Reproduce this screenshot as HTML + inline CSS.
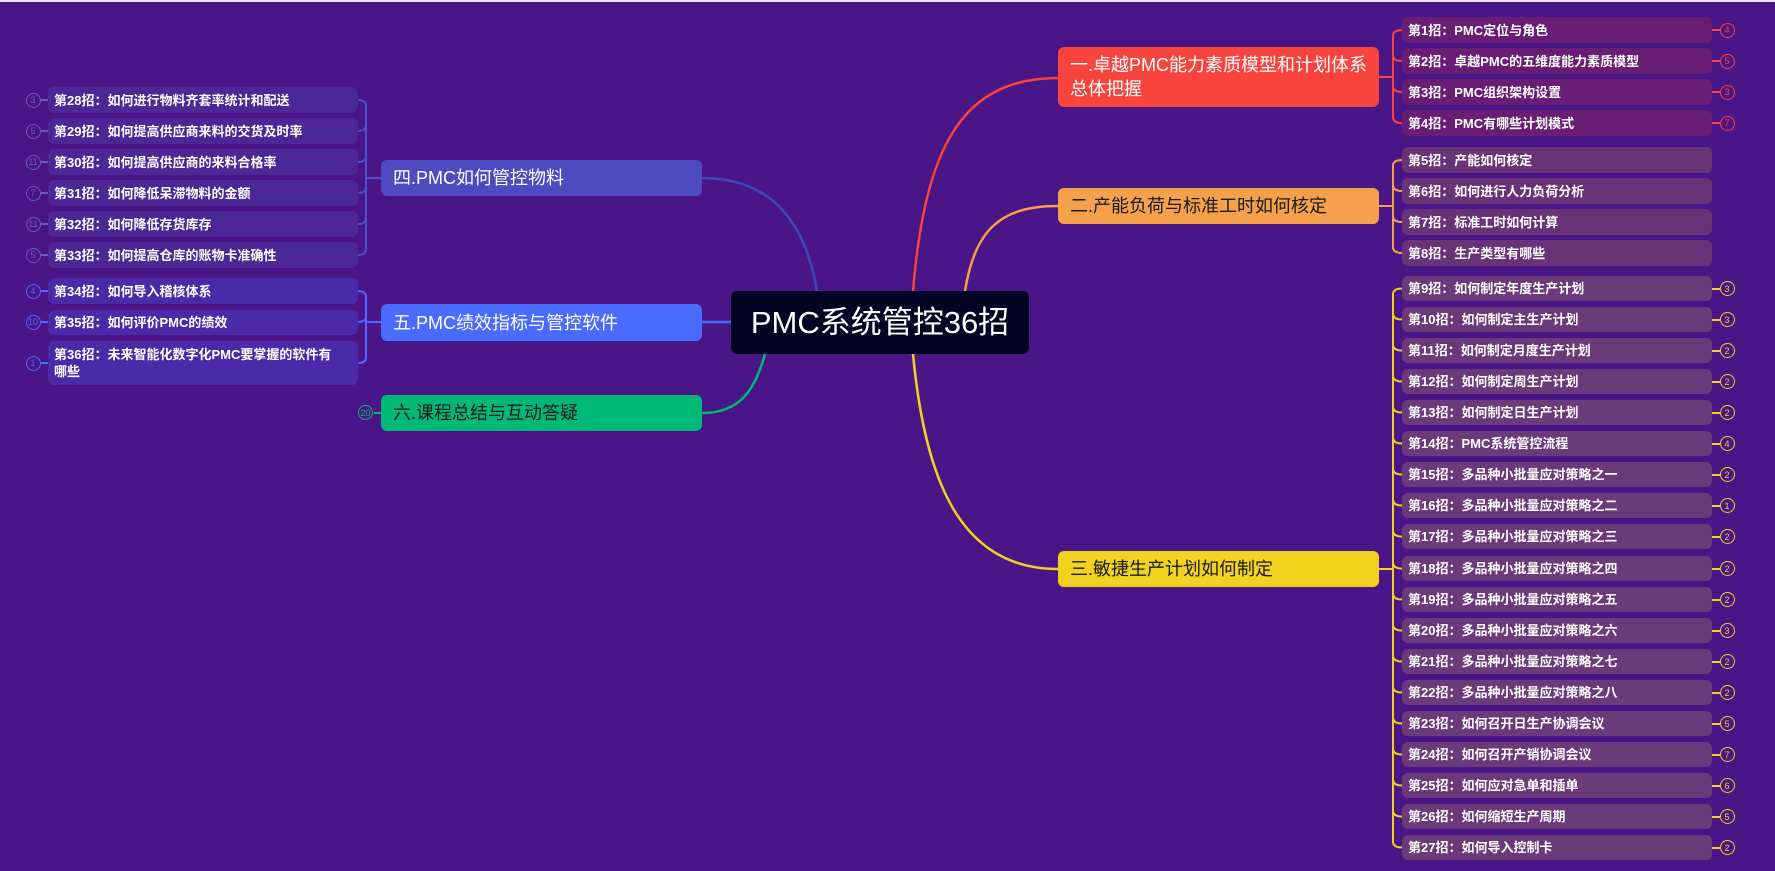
<!DOCTYPE html>
<html><head><meta charset="utf-8"><style>
*{margin:0;padding:0;box-sizing:border-box}
body{width:1775px;height:871px;background:#4a1587;position:relative;overflow:hidden;font-family:"Liberation Sans","Noto Sans CJK SC",sans-serif}
.top{position:absolute;left:0;top:0;width:1775px;height:2px;background:#e8e4f0}
.n{position:absolute;border-radius:6px;font-size:18px;display:flex;align-items:center;padding-left:12px;line-height:24px}
.c{position:absolute;border-radius:6px;font-size:13px;font-weight:bold;color:#fff;display:flex;align-items:center;padding-left:6px;line-height:17px}
.b{position:absolute;width:15px;height:15px;border-radius:50%;border:1.5px solid;font-size:9px;display:flex;align-items:center;justify-content:center;background:#4a1587}
svg{position:absolute;left:0;top:0}
</style></head><body>
<div class="top"></div>
<svg width="1775" height="871" fill="none" stroke-width="2.5">
<path d="M913 291 C925 150 960 78 1058 78" stroke="#f8443c"/>
<path d="M965 291 C975 230 1000 206 1058 206" stroke="#f5a04a"/>
<path d="M913 354 C925 480 960 569 1058 569" stroke="#f0d21f"/>
<path d="M817 291 C805 220 770 178 702 178" stroke="#3f48b8"/>
<path d="M702 322 L731 322" stroke="#4a6bff"/>
<path d="M765 354 C755 390 740 413 702 413" stroke="#00b877"/>
<g stroke-width="2">
<path d="M1379 77 H1393 M1393 36 V117" stroke="#f8443c"/>
<path d="M1393 36 Q1393 30 1402 30 M1393 55 Q1393 61 1402 61 M1393 86 Q1393 92 1402 92 M1393 117 Q1393 123 1402 123" stroke="#f8443c"/>
<path d="M1379 206 H1393 M1393 166 V247" stroke="#f5a04a"/>
<path d="M1393 166 Q1393 160 1402 160 M1393 185 Q1393 191 1402 191 M1393 216 Q1393 222 1402 222 M1393 247 Q1393 253 1402 253" stroke="#f5a04a"/>
<path d="M1379 569 H1393 M1393 294 V842" stroke="#f0d21f"/>
<path id="yb" d="" stroke="#f0d21f"/>
<path d="M381 178 H366 M366 106 V249" stroke="#4b52c8"/>
<path d="M366 106 Q366 100 358 100 M366 125 Q366 131 358 131 M366 156 Q366 162 358 162 M366 187 Q366 193 358 193 M366 218 Q366 224 358 224 M366 249 Q366 255 358 255" stroke="#4b52c8"/>
<path d="M381 322 H366 M366 297 V357" stroke="#4a6bff"/>
<path d="M366 297 Q366 291 358 291 M366 316 Q366 322 358 322 M366 357 Q366 363 358 363" stroke="#4a6bff"/>
<path d="M381 413 H374" stroke="#00b877"/>
</g>
</svg>
<div class="n" style="left:731px;top:291px;width:298px;height:63px;background:#050323;color:#fff;font-size:31px;justify-content:center;padding:0">PMC系统管控36招</div>
<div class="n" style="left:1058px;top:47px;width:321px;height:60px;background:#f8443c;color:#fff">一.卓越PMC能力素质模型和计划体系<br>总体把握</div>
<div class="n" style="left:1058px;top:188px;width:321px;height:36px;background:#f5a04a;color:#1a1a1a">二.产能负荷与标准工时如何核定</div>
<div class="n" style="left:1058px;top:551px;width:321px;height:36px;background:#f0d21f;color:#1a1a1a">三.敏捷生产计划如何制定</div>
<div class="n" style="left:381px;top:160px;width:321px;height:36px;background:#4c4cc0;color:#fff">四.PMC如何管控物料</div>
<div class="n" style="left:381px;top:304px;width:321px;height:37px;background:#4a6bff;color:#fff">五.PMC绩效指标与管控软件</div>
<div class="n" style="left:381px;top:395px;width:321px;height:36px;background:#00b877;color:#1a1a1a">六.课程总结与互动答疑</div>
<div class="b" style="left:358px;top:405px;border-color:#00b877;color:#00b877">20</div>
<div id="R"></div>
<script>
var R=document.getElementById('R'),h='';
function c(x,y,w,hh,bg,t){h+='<div class="c" style="left:'+x+'px;top:'+y+'px;width:'+w+'px;height:'+hh+'px;background:'+bg+'">'+t+'</div>';}
function b(x,y,col,t,line){h+='<div class="b" style="left:'+(x-7.5)+'px;top:'+(y-7.5)+'px;border-color:'+col+';color:'+col+'">'+t+'</div>';
 if(line)h+='<div style="position:absolute;left:'+line[0]+'px;top:'+(y-1)+'px;width:'+line[1]+'px;height:2px;background:'+col+'"></div>';}
var r1=['第1招：PMC定位与角色','第2招：卓越PMC的五维度能力素质模型','第3招：PMC组织架构设置','第4招：PMC有哪些计划模式'],rb=[4,5,3,7];
r1.forEach(function(t,i){var y=17+i*31;c(1402,y,310,26,'#691d74',t);b(1727,y+13,'#f8443c',rb[i],[1712,8]);});
var r2=['第5招：产能如何核定','第6招：如何进行人力负荷分析','第7招：标准工时如何计算','第8招：生产类型有哪些'];
r2.forEach(function(t,i){c(1402,147+i*31,310,26,'#693377',t);});
var r3=['如何制定年度生产计划','如何制定主生产计划','如何制定月度生产计划','如何制定周生产计划','如何制定日生产计划','PMC系统管控流程','多品种小批量应对策略之一','多品种小批量应对策略之二','多品种小批量应对策略之三','多品种小批量应对策略之四','多品种小批量应对策略之五','多品种小批量应对策略之六','多品种小批量应对策略之七','多品种小批量应对策略之八','如何召开日生产协调会议','如何召开产销协调会议','如何应对急单和插单','如何缩短生产周期','如何导入控制卡'];
var b3=[3,3,2,2,2,4,2,1,2,2,2,3,2,2,5,7,6,5,2],yp='';
r3.forEach(function(t,i){var y=Math.round(276+i*31.06);c(1402,y,310,25,'#6b3a7a','第'+(9+i)+'招：'+t);b(1727,y+12.5,'#f0d21f',b3[i],[1712,8]);var m=y+12.5;yp+='M1393 '+(i==0?m+6:m-6)+' Q1393 '+m+' 1402 '+m+' ';});
document.getElementById('yb').setAttribute('d',yp);
var l1=['第28招：如何进行物料齐套率统计和配送','第29招：如何提高供应商来料的交货及时率','第30招：如何提高供应商的来料合格率','第31招：如何降低呆滞物料的金额','第32招：如何降低存货库存','第33招：如何提高仓库的账物卡准确性'],lb=[3,5,11,7,11,5];
l1.forEach(function(t,i){var y=87+i*31;c(48,y,310,26,'#4b2896',t);b(33,y+13,'#6c5cb8',lb[i],[41,7]);});
c(48,278,310,26,'#4a2aa8','第34招：如何导入稽核体系');b(33,291,'#4a6bff',4,[41,7]);
c(48,310,310,25,'#4a2aa8','第35招：如何评价PMC的绩效');b(33,322,'#4a6bff',10,[41,7]);
c(48,341,310,44,'#4a2aa8','第36招：未来智能化数字化PMC要掌握的软件有<br>哪些');b(33,363,'#4a6bff',1,[41,7]);
R.innerHTML=h;
</script>
</body></html>
